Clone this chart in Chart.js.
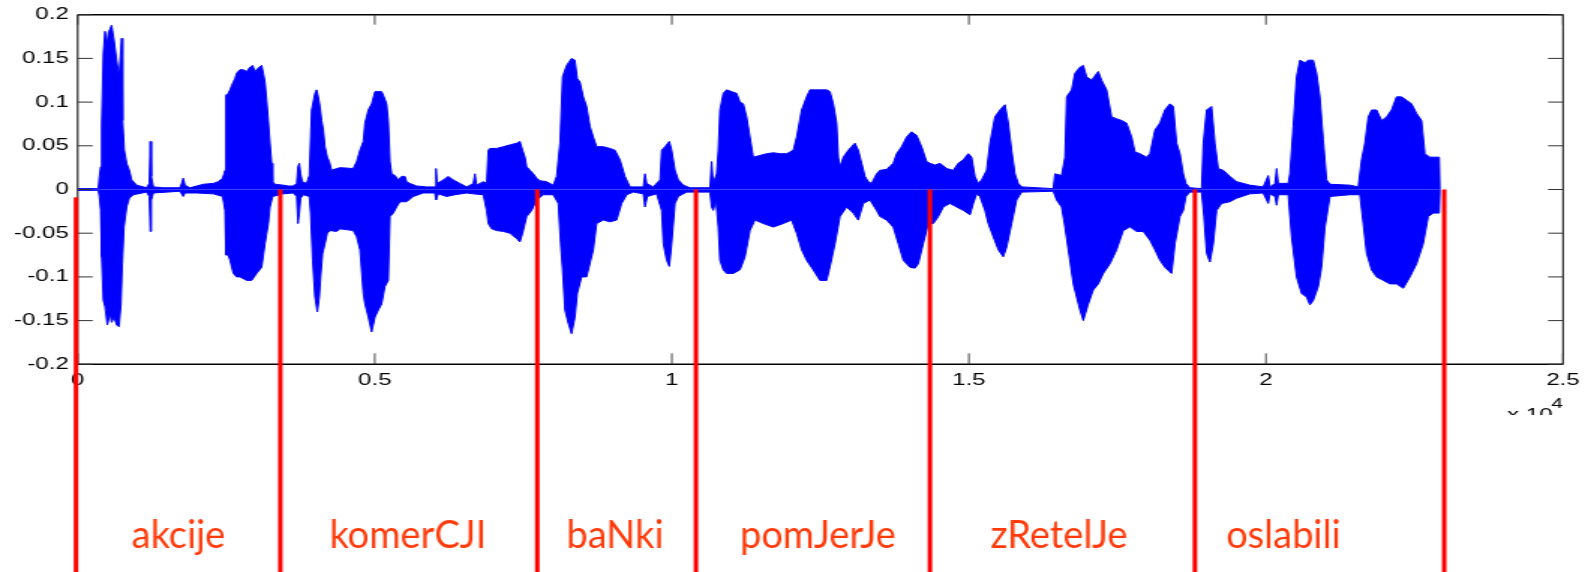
<!DOCTYPE html>
<html>
<head>
<meta charset="utf-8">
<title>Speech waveform with word boundaries</title>
<script src="https://cdn.jsdelivr.net/npm/chart.js@4.4.1/dist/chart.umd.min.js"></script>
<style>
    html, body { margin: 0; padding: 0; background: #fff; overflow: hidden; }
    #wave { display: block; }
</style>
</head>
<body>
<canvas id="wave" width="1057" height="572" style="width:1585px;height:572px"></canvas>
<script>
// Envelope of the waveform, [sample index, amplitude]
const upperEnvelope = [
    [0,0.001],[347,0.001],[364,0.015],[386,0.026],[403,0.074],[431,0.156],[459,0.181],[498,0.167],[515,0.179],[571,0.188],
    [611,0.171],[655,0.148],[695,0.129],[740,0.173],[756,0.079],[784,0.045],[824,0.030],[869,0.022],[908,0.011],[992,0.005],
    [1160,0.002],[1205,0.007],[1222,0.055],[1239,0.015],[1273,0.003],[1441,0.002],[1721,0.002],[1749,0.007],[1777,0.013],[1805,0.005],
    [1890,0.002],[2002,0.004],[2114,0.006],[2282,0.007],[2366,0.009],[2439,0.013],[2462,0.018],[2479,0.022],[2495,0.108],[2535,0.110],
    [2563,0.114],[2591,0.119],[2619,0.123],[2647,0.127],[2675,0.133],[2731,0.137],[2787,0.137],[2843,0.135],[2899,0.140],[2944,0.142],
    [2984,0.135],[3040,0.139],[3096,0.142],[3124,0.133],[3152,0.123],[3180,0.102],[3208,0.079],[3236,0.053],[3264,0.030],[3281,0.009],
    [3320,0.006],[3460,0.005],[3545,0.004],[3629,0.004],[3685,0.007],[3707,0.026],[3730,0.030],[3752,0.018],[3780,0.009],[3853,0.007],
    [3898,0.016],[3937,0.091],[3993,0.110],[4021,0.114],[4049,0.106],[4078,0.095],[4106,0.079],[4134,0.068],[4162,0.049],[4201,0.037],
    [4235,0.032],[4274,0.022],[4358,0.024],[4414,0.025],[4638,0.024],[4695,0.032],[4751,0.045],[4807,0.055],[4835,0.076],[4891,0.091],
    [4947,0.098],[5003,0.112],[5059,0.112],[5115,0.112],[5155,0.106],[5199,0.098],[5227,0.079],[5256,0.032],[5284,0.018],[5340,0.016],
    [5396,0.011],[5452,0.015],[5508,0.015],[5536,0.009],[5592,0.007],[5704,0.004],[5873,0.003],[6013,0.003],[6030,0.024],[6052,0.007],
    [6153,0.011],[6237,0.015],[6321,0.011],[6434,0.007],[6546,0.003],[6658,0.007],[6686,0.018],[6714,0.005],[6826,0.009],[6882,0.007],
    [6910,0.045],[6939,0.047],[7051,0.047],[7163,0.049],[7275,0.051],[7387,0.053],[7443,0.055],[7488,0.045],[7528,0.037],[7556,0.026],
    [7612,0.022],[7668,0.018],[7724,0.013],[7780,0.010],[7892,0.009],[8004,0.005],[8061,0.015],[8117,0.053],[8161,0.129],[8229,0.142],
    [8313,0.150],[8369,0.148],[8408,0.127],[8453,0.123],[8509,0.106],[8565,0.095],[8622,0.072],[8678,0.060],[8734,0.049],[8846,0.049],
    [8958,0.047],[9043,0.045],[9127,0.034],[9211,0.015],[9296,0.003],[9520,0.003],[9548,0.018],[9576,0.007],[9688,0.003],[9801,0.011],
    [9829,0.045],[9885,0.049],[9958,0.055],[9997,0.045],[10053,0.022],[10109,0.011],[10193,0.005],[10305,0.002],[10642,0.002],[10670,0.032],
    [10698,0.007],[10754,0.018],[10782,0.045],[10810,0.091],[10866,0.110],[10923,0.114],[11007,0.112],[11091,0.110],[11147,0.100],[11203,0.098],
    [11259,0.083],[11315,0.060],[11371,0.037],[11484,0.039],[11596,0.041],[11708,0.042],[11820,0.041],[11932,0.041],[12045,0.045],[12101,0.060],
    [12185,0.091],[12269,0.106],[12325,0.114],[12409,0.114],[12493,0.114],[12606,0.114],[12662,0.112],[12718,0.098],[12774,0.076],[12802,0.037],
    [12830,0.026],[12886,0.037],[12970,0.045],[13082,0.053],[13138,0.045],[13195,0.030],[13251,0.015],[13307,0.009],[13363,0.007],[13447,0.018],
    [13503,0.022],[13615,0.023],[13727,0.030],[13784,0.041],[13868,0.049],[13952,0.060],[14036,0.066],[14120,0.062],[14204,0.049],[14288,0.032],
    [14345,0.030],[14429,0.028],[14513,0.030],[14625,0.024],[14737,0.022],[14821,0.030],[14906,0.034],[14990,0.041],[15046,0.037],[15102,0.015],
    [15158,0.007],[15214,0.011],[15298,0.022],[15354,0.053],[15438,0.083],[15523,0.091],[15607,0.097],[15663,0.076],[15719,0.045],[15775,0.018],
    [15831,0.007],[15887,0.003],[16420,0.001],[16448,0.018],[16560,0.016],[16617,0.037],[16645,0.106],[16729,0.114],[16785,0.133],[16869,0.140],
    [16925,0.142],[16981,0.129],[17065,0.125],[17178,0.135],[17234,0.125],[17318,0.114],[17402,0.083],[17486,0.081],[17570,0.079],[17654,0.076],
    [17739,0.060],[17795,0.043],[17879,0.041],[17991,0.037],[18047,0.041],[18131,0.068],[18215,0.076],[18299,0.091],[18384,0.098],[18440,0.095],
    [18496,0.053],[18552,0.041],[18608,0.018],[18653,0.007],[18720,0.002],[18917,0.001],[18945,0.053],[19001,0.091],[19085,0.095],[19141,0.053],
    [19197,0.024],[19281,0.022],[19393,0.015],[19506,0.009],[19618,0.007],[19730,0.005],[19954,0.003],[20039,0.016],[20067,0.003],[20151,0.007],
    [20179,0.024],[20207,0.007],[20375,0.007],[20403,0.018],[20459,0.072],[20515,0.129],[20572,0.148],[20656,0.145],[20712,0.148],[20796,0.148],
    [20852,0.133],[20908,0.106],[20964,0.057],[21021,0.011],[21077,0.006],[21413,0.005],[21553,0.003],[21609,0.034],[21665,0.053],[21722,0.083],
    [21778,0.091],[21862,0.091],[21946,0.079],[22030,0.083],[22114,0.091],[22198,0.106],[22283,0.106],[22367,0.102],[22451,0.098],[22535,0.087],
    [22619,0.079],[22675,0.041],[22759,0.037],[22844,0.037],[22916,0.037],[22928,0]
];

const lowerEnvelope = [
    [0,-0.001],[347,-0.001],[364,-0.008],[386,-0.024],[403,-0.077],[431,-0.127],[459,-0.134],[498,-0.155],[543,-0.142],[571,-0.152],
    [611,-0.146],[655,-0.155],[695,-0.157],[728,-0.131],[751,-0.085],[779,-0.043],[824,-0.020],[869,-0.010],[936,-0.006],[1160,-0.003],
    [1205,-0.008],[1222,-0.048],[1239,-0.012],[1273,-0.004],[1721,-0.002],[1777,-0.008],[1805,-0.004],[2002,-0.004],[2282,-0.005],[2439,-0.008],
    [2479,-0.024],[2495,-0.075],[2535,-0.075],[2563,-0.081],[2619,-0.096],[2675,-0.100],[2731,-0.100],[2787,-0.102],[2843,-0.104],[2927,-0.104],
    [3012,-0.096],[3096,-0.089],[3152,-0.062],[3208,-0.039],[3236,-0.020],[3281,-0.008],[3460,-0.005],[3629,-0.004],[3685,-0.008],[3707,-0.039],
    [3730,-0.027],[3752,-0.010],[3797,-0.006],[3898,-0.008],[3920,-0.027],[3954,-0.081],[3993,-0.123],[4033,-0.140],[4066,-0.123],[4089,-0.100],
    [4122,-0.073],[4162,-0.062],[4201,-0.050],[4246,-0.047],[4358,-0.048],[4414,-0.045],[4638,-0.047],[4695,-0.054],[4751,-0.069],[4807,-0.119],
    [4835,-0.131],[4891,-0.146],[4947,-0.163],[5003,-0.146],[5059,-0.138],[5115,-0.131],[5171,-0.111],[5227,-0.104],[5256,-0.031],[5312,-0.027],
    [5368,-0.020],[5424,-0.014],[5536,-0.014],[5648,-0.008],[5817,-0.004],[6013,-0.004],[6030,-0.012],[6069,-0.005],[6209,-0.008],[6349,-0.006],
    [6546,-0.004],[6658,-0.005],[6826,-0.006],[6882,-0.024],[6910,-0.039],[6967,-0.045],[7051,-0.047],[7163,-0.048],[7275,-0.050],[7387,-0.056],
    [7443,-0.060],[7488,-0.050],[7556,-0.031],[7640,-0.024],[7724,-0.012],[7836,-0.006],[8004,-0.006],[8089,-0.016],[8128,-0.062],[8161,-0.092],
    [8201,-0.138],[8257,-0.153],[8313,-0.165],[8369,-0.146],[8408,-0.119],[8481,-0.100],[8565,-0.100],[8678,-0.069],[8734,-0.039],[8846,-0.035],
    [8958,-0.037],[9071,-0.035],[9155,-0.016],[9240,-0.006],[9352,-0.003],[9520,-0.005],[9548,-0.020],[9587,-0.008],[9744,-0.005],[9829,-0.024],
    [9857,-0.062],[9913,-0.081],[9958,-0.088],[9997,-0.062],[10053,-0.016],[10109,-0.008],[10249,-0.003],[10642,-0.003],[10670,-0.020],[10698,-0.024],
    [10743,-0.012],[10782,-0.043],[10810,-0.081],[10866,-0.092],[10923,-0.096],[11035,-0.096],[11147,-0.092],[11231,-0.077],[11315,-0.047],[11399,-0.035],
    [11540,-0.039],[11708,-0.043],[11876,-0.039],[12016,-0.035],[12101,-0.050],[12185,-0.069],[12269,-0.081],[12381,-0.092],[12493,-0.104],[12606,-0.104],
    [12673,-0.085],[12746,-0.062],[12830,-0.031],[12942,-0.020],[13054,-0.027],[13138,-0.035],[13223,-0.016],[13335,-0.012],[13447,-0.024],[13503,-0.031],
    [13615,-0.035],[13727,-0.043],[13812,-0.062],[13896,-0.081],[14008,-0.089],[14092,-0.090],[14148,-0.085],[14232,-0.062],[14316,-0.039],[14401,-0.039],
    [14485,-0.031],[14569,-0.020],[14681,-0.016],[14793,-0.020],[14906,-0.024],[15018,-0.029],[15074,-0.016],[15130,-0.005],[15186,-0.008],[15270,-0.024],
    [15326,-0.039],[15410,-0.054],[15495,-0.069],[15579,-0.077],[15635,-0.066],[15719,-0.039],[15803,-0.012],[15887,-0.003],[16420,-0.002],[16476,-0.012],
    [16560,-0.020],[16617,-0.043],[16673,-0.069],[16757,-0.108],[16869,-0.138],[16925,-0.150],[17009,-0.131],[17093,-0.115],[17178,-0.108],[17262,-0.096],
    [17374,-0.085],[17486,-0.069],[17598,-0.047],[17711,-0.043],[17823,-0.048],[17935,-0.048],[18047,-0.058],[18131,-0.069],[18215,-0.081],[18299,-0.089],
    [18412,-0.096],[18468,-0.062],[18552,-0.031],[18608,-0.024],[18653,-0.008],[18720,-0.003],[18917,-0.003],[18956,-0.031],[19001,-0.073],[19057,-0.083],
    [19113,-0.062],[19169,-0.024],[19253,-0.016],[19393,-0.014],[19506,-0.010],[19730,-0.005],[19954,-0.004],[20039,-0.016],[20067,-0.005],[20151,-0.008],
    [20179,-0.018],[20207,-0.006],[20375,-0.006],[20431,-0.054],[20515,-0.100],[20600,-0.119],[20684,-0.123],[20740,-0.132],[20796,-0.127],[20880,-0.111],
    [20936,-0.089],[20993,-0.043],[21077,-0.008],[21413,-0.006],[21581,-0.006],[21637,-0.039],[21694,-0.073],[21778,-0.092],[21862,-0.100],[21974,-0.104],
    [22086,-0.108],[22198,-0.108],[22311,-0.113],[22423,-0.100],[22535,-0.085],[22647,-0.062],[22731,-0.031],[22815,-0.027],[22916,-0.027],[22928,0]
];

// Word segmentation (sample index of each boundary, and where each red line starts)
const boundarySamples = [-29, 3410, 7735, 10406, 14344, 18804, 23000];
const boundaryTops = [-0.009, 0, 0, 0, 0, 0, 0];
const words = ['akcije', 'komerCJI', 'baNki', 'pomJerJe', 'zRetelJe', 'oslabili'];
const wordCenters = [1696, 5559, 9044, 12458, 16516, 20293];

// Axis ticks
const xTickValues = [0, 5000, 10000, 15000, 20000, 25000];
const xTickLabels = ['0', '0.5', '1', '1.5', '2', '2.5'];
const yTickValues = [-0.2, -0.15, -0.1, -0.05, 0, 0.05, 0.1, 0.15, 0.2];
const yTickLabels = ['-0.2', '-0.15', '-0.1', '-0.05', '0', '0.05', '0.1', '0.15', '0.2'];

// the original figure is stretched sideways, so the canvas is drawn narrow and widened by CSS
const canvas = document.getElementById('wave');
const STRETCH = 1585 / canvas.width;
const PLOT_LEFT = 77.7 / STRETCH;
const PLOT_RIGHT = 1563 / STRETCH;
const PLOT_TOP = 14.7;
const PLOT_BOTTOM = 364.3;

const BLUE = '#0000ff';
const tickFont = { family: "'Liberation Sans', Arial, Helvetica, sans-serif", size: 16 };

const decorations = {
    id: 'decorations',
    afterDatasetsDraw(chart) {
        const ctx = chart.ctx;
        const a = chart.chartArea;
        const xs = chart.scales.x;
        const ys = chart.scales.y;
        ctx.save();

        // axes box
        ctx.strokeStyle = '#000';
        ctx.lineWidth = 1.4;
        ctx.beginPath();
        ctx.moveTo(a.left, a.top); ctx.lineTo(a.right, a.top);
        ctx.moveTo(a.left, a.bottom); ctx.lineTo(a.right, a.bottom);
        ctx.stroke();
        ctx.lineWidth = 1;
        ctx.beginPath();
        ctx.moveTo(a.left, a.top); ctx.lineTo(a.left, a.bottom);
        ctx.moveTo(a.right, a.top); ctx.lineTo(a.right, a.bottom);
        ctx.stroke();

        // inner tick marks on all four sides
        ctx.strokeStyle = '#333';
        ctx.beginPath();
        yTickValues.forEach(v => {
            const py = ys.getPixelForValue(v);
            ctx.moveTo(a.left, py); ctx.lineTo(a.left + 10, py);
            ctx.moveTo(a.right - 10, py); ctx.lineTo(a.right, py);
        });
        ctx.stroke();
        ctx.lineWidth = 0.9;
        ctx.beginPath();
        xTickValues.forEach(v => {
            const px = xs.getPixelForValue(v);
            ctx.moveTo(px, a.bottom); ctx.lineTo(px, a.bottom - 11);
            ctx.moveTo(px, a.top); ctx.lineTo(px, a.top + 10);
        });
        ctx.stroke();

        // exponent label, partly hidden like in the original
        ctx.save();
        ctx.beginPath();
        ctx.rect(0, 0, chart.width, 415);
        ctx.clip();
        ctx.fillStyle = '#000';
        ctx.textAlign = 'right';
        ctx.textBaseline = 'alphabetic';
        ctx.font = "16px 'Liberation Sans', Arial, sans-serif";
        ctx.fillText('x 10', a.right - 7, 420);
        ctx.font = "14px 'Liberation Sans', Arial, sans-serif";
        ctx.fillText('4', a.right, 408);
        ctx.restore();

        // red word boundaries
        ctx.fillStyle = '#ff0000';
        boundarySamples.forEach((s, i) => {
            const px = xs.getPixelForValue(s);
            const top = ys.getPixelForValue(boundaryTops[i]);
            ctx.fillRect(px - 1.5, top, 3, chart.height - top);
        });

        // word labels
        ctx.fillStyle = '#ff3a0a';
        ctx.font = "38px Lato, 'Open Sans', sans-serif";
        ctx.textAlign = 'center';
        ctx.textBaseline = 'alphabetic';
        words.forEach((w, i) => {
            const px = xs.getPixelForValue(wordCenters[i]);
            ctx.save();
            ctx.translate(px, 548);
            ctx.scale(1 / STRETCH, 1);
            ctx.fillText(w, 0, 0);
            ctx.restore();
        });

        ctx.restore();
    }
};

function envelopeDataset(points) {
    return {
        data: points.map(p => ({ x: p[0], y: p[1] })),
        borderColor: BLUE,
        backgroundColor: BLUE,
        borderWidth: 1,
        pointRadius: 0,
        tension: 0,
        fill: 'origin'
    };
}

new Chart(canvas, {
    type: 'line',
    data: {
        datasets: [envelopeDataset(upperEnvelope), envelopeDataset(lowerEnvelope)]
    },
    options: {
        responsive: false,
        maintainAspectRatio: false,
        devicePixelRatio: 1,
        animation: false,
        events: [],
        layout: {
            padding: { top: PLOT_TOP, right: canvas.width - PLOT_RIGHT, left: 0, bottom: 0 }
        },
        plugins: {
            legend: { display: false },
            tooltip: { enabled: false }
        },
        scales: {
            x: {
                type: 'linear',
                min: 0,
                max: 25000,
                afterBuildTicks: s => { s.ticks = xTickValues.map(v => ({ value: v })); },
                afterFit: s => {
                    s.height = canvas.height - PLOT_BOTTOM;
                    // keep the plot box where it is; labels may overhang
                    s.paddingLeft = 0;
                    s.paddingRight = 0;
                },
                grid: { display: false, drawTicks: false },
                border: { display: false },
                ticks: {
                    color: '#000',
                    font: tickFont,
                    padding: 7,
                    maxRotation: 0,
                    callback: (v, i) => xTickLabels[i]
                }
            },
            y: {
                type: 'linear',
                min: -0.2,
                max: 0.2,
                afterBuildTicks: s => { s.ticks = yTickValues.map(v => ({ value: v })); },
                afterFit: s => {
                    s.width = PLOT_LEFT;
                    s.paddingTop = 0;
                    s.paddingBottom = 0;
                },
                grid: { display: false, drawTicks: false },
                border: { display: false },
                ticks: {
                    color: '#000',
                    font: tickFont,
                    padding: 6,
                    callback: (v, i) => yTickLabels[i]
                }
            }
        }
    },
    plugins: [decorations]
});
</script>
</body>
</html>
